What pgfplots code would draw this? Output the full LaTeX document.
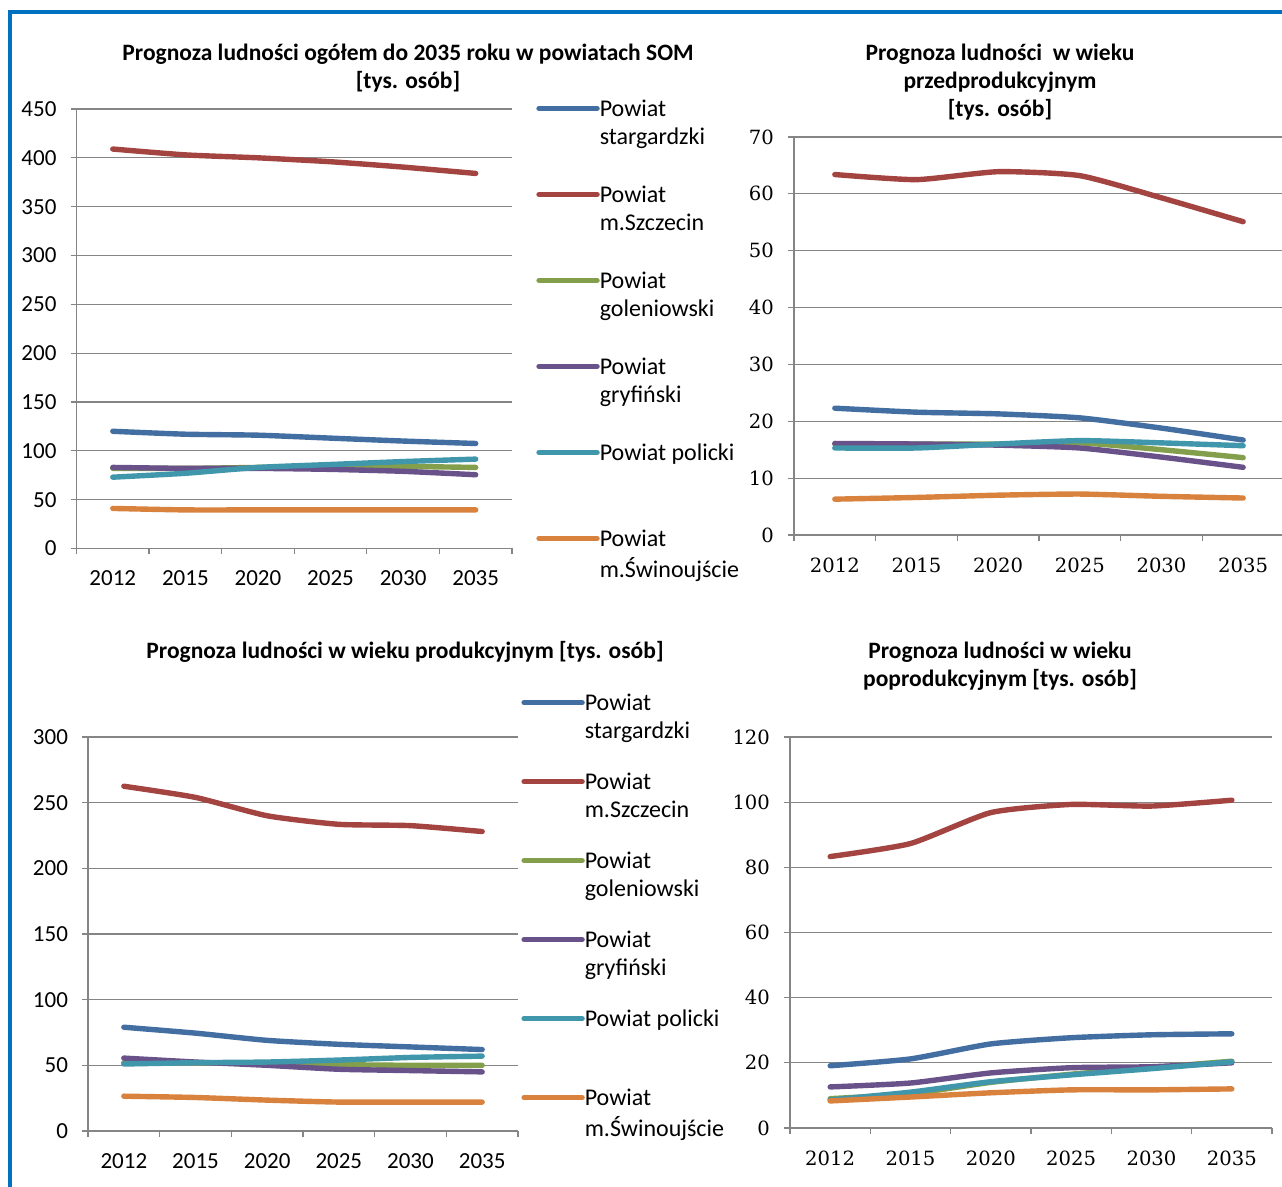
\documentclass[border=0pt]{standalone}
\usepackage{pgfplots}
\pgfplotsset{compat=1.18}
\usepackage{fontspec}
\setmainfont{Carlito}
\newfontfamily\serifnum{DejaVu Serif}

\definecolor{sblue}{RGB}{67,110,161}
\definecolor{sred}{RGB}{163,68,65}
\definecolor{sgreen}{RGB}{132,159,76}
\definecolor{spurple}{RGB}{105,82,138}
\definecolor{steal}{RGB}{64,150,170}
\definecolor{sorange}{RGB}{216,130,62}
\definecolor{gridgray}{HTML}{858585}
\definecolor{frameblue}{HTML}{0070C0}

\newcommand\legtwo[2]{\vtop{\hbox{\strut #1}\hbox{\strut #2}}}

\pgfplotsset{
  panel/.style={
    scale only axis,
    xmin=-0.5, xmax=5.5, ymin=0,
    axis lines*=left,
    axis line style={draw=gridgray, line width=0.6pt},
    ymajorgrids,
    grid style={draw=gridgray, line width=0.6pt},
    xtick={-0.5,0.5,...,5.5},
    x tick label as interval,
    xticklabels={2012,2015,2020,2025,2030,2035},
    tick align=outside,
    major tick length=3pt,
    tick style={draw=gridgray, line width=0.6pt},
    xticklabel style={yshift=-4.75pt},
    yticklabel style={xshift=-3.5pt},
    /pgf/number format/assume math mode=true,
    every axis plot/.append style={line width=2.7pt, line cap=round, line join=round, smooth, tension=0.35},
    legend image code/.code={\draw[##1, line width=2.7pt, line cap=round] (0pt,0pt) -- (29pt,0pt);},
  },
  sansticks/.style={ticklabel style={font=\fontsize{11.5}{12}\selectfont}},
  serifticks/.style={ticklabel style={font=\serifnum\fontsize{9.8}{12}\selectfont}},
  leg/.style 2 args={
    legend cell align=left,
    legend style={draw=none, fill=none, inner sep=0pt, row sep=#1,
      font=\fontsize{12}{14}\selectfont, column sep=0pt,
      nodes={inner xsep=0pt},
      at={#2}, anchor=north west},
  },
}

\begin{document}
\begin{tikzpicture}
\useasboundingbox (0pt,0pt) rectangle (641pt,593.5pt);
\fill[white] (0pt,0pt) rectangle (641pt,593.5pt);

% titles
\begin{scope}[every node/.style={align=center, font=\bfseries\fontsize{11.75}{14}\selectfont}]
\node at (204pt,559.5pt) {Prognoza ludności ogółem do 2035 roku w powiatach SOM\\{[tys. osób]}};
\node at (500pt,552.5pt) {Prognoza ludności \ w wieku\\przedprodukcyjnym\\{[tys. osób]}};
\node at (202.5pt,267.5pt) {Prognoza ludności w wieku produkcyjnym [tys. osób]};
\node at (500pt,260.5pt) {Prognoza ludności w wieku\\poprodukcyjnym [tys. osób]};
\end{scope}

% total population
\begin{axis}[panel, sansticks, leg={27.7pt}{(1.055,1.037)},
  at={(38.25pt,319.25pt)}, anchor=south west,
  width=217.75pt, height=219.75pt,
  ymax=450, ytick={0,50,...,450}]
\addplot[sblue] coordinates {(0,120)(1,117)(2,116)(3,113)(4,110)(5,107.5)};
\addlegendentry{\legtwo{Powiat}{stargardzki}}
\addplot[sred] coordinates {(0,409)(1,403)(2,400)(3,396)(4,390.5)(5,384)};
\addlegendentry{\legtwo{Powiat}{m.Szczecin}}
\addplot[sgreen] coordinates {(0,82)(1,82)(2,83)(3,84)(4,84)(5,83)};
\addlegendentry{\legtwo{Powiat}{goleniowski}}
\addplot[spurple] coordinates {(0,83)(1,82)(2,82)(3,81)(4,79)(5,75.5)};
\addlegendentry{\legtwo{Powiat}{gryfiński}}
\addplot[steal] coordinates {(0,73)(1,77)(2,83)(3,86)(4,89)(5,91.5)};
\addlegendentry{\legtwo{Powiat policki}{}}
\addplot[sorange] coordinates {(0,41)(1,39.5)(2,39.5)(3,39.5)(4,39.5)(5,39.5)};
\addlegendentry{\legtwo{Powiat}{m.Świnoujście}}
\end{axis}

% pre-working age
\begin{axis}[panel, serifticks,
  at={(397pt,326pt)}, anchor=south west,
  width=245pt, height=199pt,
  ymax=70, ytick={0,10,...,70}]
\addplot[sblue] coordinates {(0,22.3)(1,21.6)(2,21.3)(3,20.6)(4,18.8)(5,16.7)};
\addplot[sred] coordinates {(0,63.4)(1,62.5)(2,63.9)(3,63.2)(4,59.3)(5,55.1)};
\addplot[sgreen] coordinates {(0,16.0)(1,16.0)(2,16.0)(3,16.2)(4,15.0)(5,13.6)};
\addplot[spurple] coordinates {(0,16.1)(1,16.0)(2,15.8)(3,15.3)(4,13.7)(5,11.9)};
\addplot[steal] coordinates {(0,15.3)(1,15.3)(2,16.0)(3,16.6)(4,16.2)(5,15.7)};
\addplot[sorange] coordinates {(0,6.3)(1,6.6)(2,7.0)(3,7.2)(4,6.8)(5,6.5)};
\end{axis}

% working age
\begin{axis}[panel, sansticks, leg={24.2pt}{(1.007,1.127)},
  at={(44pt,28pt)}, anchor=south west,
  width=215pt, height=197pt,
  ymax=300, ytick={0,50,...,300}]
\addplot[sblue] coordinates {(0,79)(1,74.5)(2,69)(3,66)(4,64)(5,62)};
\addlegendentry{\legtwo{Powiat}{stargardzki}}
\addplot[sred] coordinates {(0,262.5)(1,254)(2,240)(3,233.5)(4,232.5)(5,228)};
\addlegendentry{\legtwo{Powiat}{m.Szczecin}}
\addplot[sgreen] coordinates {(0,52)(1,52)(2,51.5)(3,50.5)(4,50)(5,50)};
\addlegendentry{\legtwo{Powiat}{goleniowski}}
\addplot[spurple] coordinates {(0,55.5)(1,52.5)(2,50)(3,47)(4,46)(5,45)};
\addlegendentry{\legtwo{Powiat}{gryfiński}}
\addplot[steal] coordinates {(0,51)(1,52)(2,52.5)(3,54)(4,56)(5,57)};
\addlegendentry{\legtwo{Powiat policki}{}}
\addplot[sorange] coordinates {(0,26.5)(1,25.5)(2,23.5)(3,22)(4,22)(5,22)};
\addlegendentry{\legtwo{Powiat}{m.Świnoujście}}
\end{axis}

% post-working age
\begin{axis}[panel, serifticks,
  at={(395pt,29.5pt)}, anchor=south west,
  width=241pt, height=195.5pt,
  ymax=120, ytick={0,20,...,120}]
\addplot[sblue] coordinates {(0,19.1)(1,21.2)(2,25.8)(3,27.7)(4,28.6)(5,28.9)};
\addplot[sred] coordinates {(0,83.3)(1,87.3)(2,96.8)(3,99.3)(4,98.8)(5,100.6)};
\addplot[sgreen] coordinates {(0,9)(1,10.5)(2,14)(3,16.5)(4,18.5)(5,20.5)};
\addplot[spurple] coordinates {(0,12.6)(1,13.8)(2,16.9)(3,18.5)(4,18.8)(5,20)};
\addplot[steal] coordinates {(0,8.6)(1,11)(2,14.2)(3,16.3)(4,18.2)(5,20.3)};
\addplot[sorange] coordinates {(0,8.3)(1,9.5)(2,10.8)(3,11.7)(4,11.7)(5,12.0)};
\end{axis}

% frame
\draw[frameblue, line width=2pt] (645pt,587.5pt) -- (5pt,587.5pt) -- (5pt,-5pt);
\end{tikzpicture}
\end{document}
